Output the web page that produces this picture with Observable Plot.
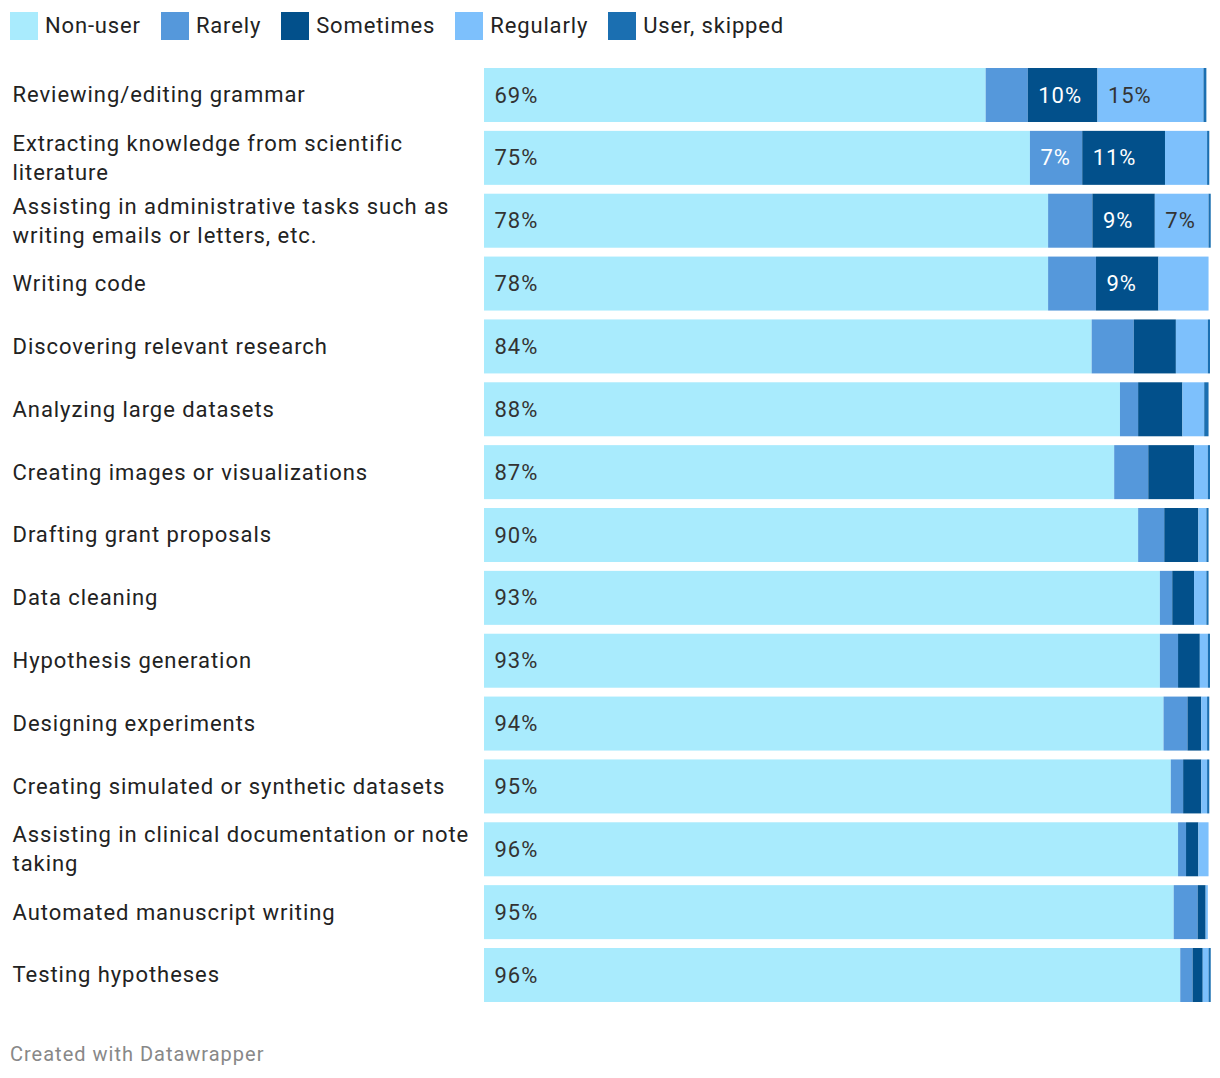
<!DOCTYPE html>
<html>
<head>
<meta charset="utf-8">
<script src="https://cdn.jsdelivr.net/npm/d3@7"></script>
<script src="https://cdn.jsdelivr.net/npm/@observablehq/plot@0.6"></script>
<style>
  body { margin: 0; background: #fff; font-family: Roboto, sans-serif; }
  #legend { display: flex; align-items: center; height: 28px; padding: 12px 0 10px 10px; line-height: 28px; }
  .item { display: flex; align-items: center; margin-right: 20px; font-size: 22px; letter-spacing: 0.85px; color: #222; }
  .sw { width: 28px; height: 28px; margin-right: 7px; }
  #chart svg { display: block; }
  #caption { margin: 41px 0 0 10px; font-size: 20px; letter-spacing: 1px; color: #888; line-height: 23px; }
</style>
</head>
<body>
<div id="legend"></div>
<div id="chart"></div>
<div id="caption">Created with Datawrapper</div>
<script>
const series = ["Non-user", "Rarely", "Sometimes", "Regularly", "User, skipped"];
const colors = ["#A9EBFD", "#5598DB", "#02508B", "#7DC0FC", "#1B6FB1"];
const labelColors = ["#333", "#fff", "#fff", "#333", "#fff"];

const tasks = [
  "Reviewing/editing grammar",
  "Extracting knowledge from scientific\nliterature",
  "Assisting in administrative tasks such as\nwriting emails or letters, etc.",
  "Writing code",
  "Discovering relevant research",
  "Analyzing large datasets",
  "Creating images or visualizations",
  "Drafting grant proposals",
  "Data cleaning",
  "Hypothesis generation",
  "Designing experiments",
  "Creating simulated or synthetic datasets",
  "Assisting in clinical documentation or note\ntaking",
  "Automated manuscript writing",
  "Testing hypotheses"
];
const nonUser   = [69.1, 75.2, 77.7, 77.7, 83.7, 87.6, 86.8, 90.1, 93.1, 93.1, 93.6, 94.6, 95.6, 95.0, 95.9];
const rarely    = [5.8, 7.2, 6.1, 6.6, 5.8, 2.5, 4.7, 3.6, 1.7, 2.5, 3.3, 1.7, 1.1, 3.3, 1.7];
const sometimes = [9.6, 11.4, 8.6, 8.6, 5.8, 6.1, 6.3, 4.7, 3.0, 3.0, 1.9, 2.5, 1.7, 1.1, 1.4];
const regularly = [14.6, 5.8, 7.4, 6.9, 4.4, 3.0, 1.9, 1.1, 1.7, 1.1, 0.8, 0.8, 1.4, 0.3, 0.8];
const skipped   = [0.4, 0.3, 0.3, 0.0, 0.3, 0.6, 0.3, 0.3, 0.3, 0.3, 0.3, 0.3, 0.0, 0.0, 0.3];

const valuesBySeries = [nonUser, rarely, sometimes, regularly, skipped];
const data = [];
tasks.forEach((t, i) => {
  series.forEach((s, j) => {
    data.push({task: t, category: s, value: valuesBySeries[j][i], lightLabel: labelColors[j] === "#fff"});
  });
});

// Legend
const legend = d3.select("#legend");
series.forEach((s, j) => {
  const it = legend.append("div").attr("class", "item");
  it.append("div").attr("class", "sw").style("background", colors[j]);
  it.append("span").text(s);
});

const labelText = (light) => d => (d.value >= 7 && d.lightLabel === light) ? Math.round(d.value) + "%" : null;

const chart = Plot.plot({
  width: 1220,
  height: 952,
  marginLeft: 484,
  marginRight: 10,
  marginTop: 18,
  marginBottom: 0,
  style: {fontFamily: "Roboto, sans-serif", fontSize: "22px", letterSpacing: "0.95px", background: "#fff"},
  x: {domain: [0, 100], axis: null},
  y: {domain: tasks, axis: null, paddingInner: 0.141, paddingOuter: 0, round: false},
  color: {domain: series, range: colors},
  marks: [
    Plot.barX(data, {x: "value", y: "task", fill: "category", z: "category", order: series}),
    Plot.text(data, Plot.stackX1({x: "value", y: "task", z: "category", order: series,
      text: labelText(false), fill: "#333", textAnchor: "start", dx: 10, fontSize: 22})),
    Plot.text(data, Plot.stackX1({x: "value", y: "task", z: "category", order: series,
      text: labelText(true), fill: "#fff", textAnchor: "start", dx: 10, fontSize: 22})),
    Plot.text(tasks, {y: d => d, text: d => d, frameAnchor: "left", textAnchor: "start",
      dx: -472, dy: -2.3, lineHeight: 1.32, fill: "#222", fontSize: 22})
  ]
});
document.getElementById("chart").appendChild(chart);
</script>
</body>
</html>
